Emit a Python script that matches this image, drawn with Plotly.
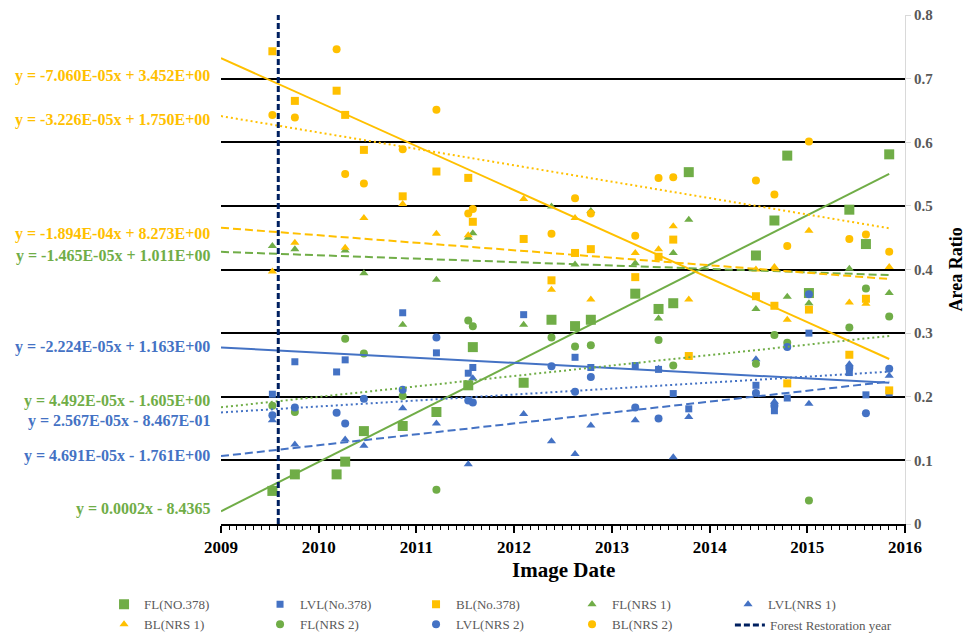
import pandas as pd
import plotly.graph_objects as go

# ---- data -------------------------------------------------------------
image_dates = [
    "2009-07-12", "2009-10-04", "2010-03-09", "2010-04-10", "2010-06-19",
    "2010-11-11", "2011-03-17", "2011-07-14", "2011-07-31", "2012-02-06",
    "2012-05-20", "2012-08-16", "2012-10-14", "2013-03-29", "2013-06-24",
    "2013-08-18", "2013-10-15", "2014-06-23", "2014-08-31", "2014-10-18",
    "2015-01-07", "2015-06-07", "2015-08-08", "2015-11-03",
]
restoration_date = "2009-08-03"

fl_no378 = [0.052, 0.078, 0.078, 0.098, 0.146, 0.154, 0.176, 0.218, 0.278, 0.222, 0.321, 0.311,
            0.321, 0.362, 0.338, 0.347, 0.553, 0.422, 0.477, 0.579, 0.363, 0.494, 0.440, 0.581]
lvl_no378 = [0.204, 0.255, 0.239, 0.258, None, 0.332, 0.269, 0.237, 0.246, 0.329, None, 0.262,
             0.246, 0.249, 0.243, 0.205, 0.181, 0.218, 0.178, 0.198, 0.300, 0.238, 0.203, 0.206]
bl_no378 = [0.743, 0.665, 0.681, 0.643, 0.588, 0.515, 0.554, 0.544, 0.475, 0.448, 0.383, 0.426,
            0.432, 0.388, 0.420, 0.447, 0.264, 0.358, 0.343, 0.221, 0.337, 0.266, 0.354, 0.210]
fl_nrs1 = [0.437, 0.432, None, 0.430, 0.394, 0.313, 0.384, 0.450, 0.457, 0.313, 0.499, 0.408,
           0.492, 0.410, 0.323, 0.426, 0.478, 0.338, None, 0.357, 0.347, 0.401, None, 0.363]
lvl_nrs1 = [0.163, 0.125, None, 0.133, 0.123, 0.182, 0.158, 0.094, 0.229, 0.173, 0.130, 0.110,
            0.155, 0.163, 0.244, 0.105, 0.168, 0.259, 0.192, None, 0.189, 0.251, None, 0.233]
bl_nrs1 = [0.397, 0.442, None, 0.434, 0.481, 0.503, 0.456, 0.454, None, 0.511, 0.368, 0.481,
           0.353, 0.426, 0.432, 0.468, 0.353, 0.400, 0.404, 0.321, 0.461, 0.348, 0.346, 0.404]
fl_nrs2 = [0.186, 0.176, None, 0.291, 0.268, 0.201, 0.054, 0.320, 0.311, None, 0.293, 0.279,
           0.281, None, 0.289, 0.249, None, 0.252, 0.297, 0.285, 0.037, 0.309, 0.370, 0.326]
lvl_nrs2 = [0.171, 0.183, 0.175, 0.158, 0.197, 0.211, 0.293, 0.194, 0.191, None, 0.248, 0.208,
            0.231, 0.183, 0.166, None, None, 0.206, 0.186, 0.278, 0.361, 0.245, 0.174, 0.244]
bl_nrs2 = [0.643, 0.639, 0.746, 0.550, 0.535, 0.589, 0.651, 0.488, 0.495, None, 0.456, 0.512,
           0.488, 0.453, 0.544, 0.545, None, 0.540, 0.518, 0.437, 0.601, 0.448, 0.455, 0.428]

series_names = ["FL(NO.378)", "LVL(No.378)", "BL(No.378)",
                "FL(NRS 1)", "LVL(NRS 1)", "BL(NRS 1)",
                "FL(NRS 2)", "LVL(NRS 2)", "BL(NRS 2)"]
series_values = [fl_no378, lvl_no378, bl_no378,
                 fl_nrs1, lvl_nrs1, bl_nrs1,
                 fl_nrs2, lvl_nrs2, bl_nrs2]

# linear trend coefficients, x = Excel serial day number
trend_slopes = [2.124e-4, -2.224e-5, -1.894e-4,
                -1.465e-5, 4.691e-5, -3.226e-5,
                4.492e-5, 2.567e-5, -7.060e-5]
trend_intercepts = [-8.4365, 1.163, 8.273,
                    1.011, -1.761, 1.750,
                    -1.605, -0.8467, 3.452]
trend_formats = [".4f", ".3E", ".3E", ".3E", ".3E", ".3E", ".3E", ".3E", ".3E"]

# equation labels: (series index, label y position)
label_order = [8, 5, 2, 3, 1, 6, 7, 4, 0]
label_y = [0.7047, 0.6351, 0.4556, 0.4216, 0.2776, 0.1928, 0.1614, 0.1065, 0.0228]

# ---- styles -----------------------------------------------------------
GREEN, BLUE, YELLOW, NAVY = "#70AD47", "#4472C4", "#FFC000", "#002060"
colors = [GREEN, BLUE, YELLOW] * 3
symbols = ["square"] * 3 + ["triangle-up"] * 3 + ["circle"] * 3
sizes = [10, 7, 8, 8, 8, 8, 8, 8, 8]
dashes = ["solid"] * 3 + ["8px,4px"] * 3 + ["2px,3px"] * 3
SERIF = "Liberation Serif"

AXIS_START, AXIS_END = "2009-01-01", "2016-01-01"
EXCEL_EPOCH = pd.Timestamp("1899-12-30")


def serial(d):
    return (pd.Timestamp(d) - EXCEL_EPOCH).days


def eq_text(a, b, fmt):
    sign = "+" if b >= 0 else "-"
    return f"y = {format(a, fmt)}x {sign} {format(abs(b), fmt)}"


fig = go.Figure()

for name, vals, col, sym, sz in zip(series_names, series_values, colors, symbols, sizes):
    xs = [d for d, v in zip(image_dates, vals) if v is not None]
    ys = [v for v in vals if v is not None]
    fig.add_trace(go.Scatter(
        x=xs, y=ys, mode="markers", name=name, legend="legend",
        marker=dict(symbol=sym, size=sz, color=col, line=dict(width=0)),
    ))

# trend lines, extended back to the start of the axis
for vals, col, dash, a, b in zip(series_values, colors, dashes, trend_slopes, trend_intercepts):
    last = [d for d, v in zip(image_dates, vals) if v is not None][-1]
    xs = [AXIS_START, last]
    ys = [a * serial(d) + b for d in xs]
    fig.add_trace(go.Scatter(
        x=xs, y=ys, mode="lines", showlegend=False, hoverinfo="skip",
        line=dict(color=col, width=2, dash=dash),
    ))

fig.add_trace(go.Scatter(
    x=[restoration_date, restoration_date], y=[0, 0.8], mode="lines",
    name="Forest Restoration year", legend="legend2",
    line=dict(color=NAVY, width=3, dash="6px,3px"),
))

annotations = []
for idx, yv in zip(label_order, label_y):
    annotations.append(dict(
        text=eq_text(trend_slopes[idx], trend_intercepts[idx], trend_formats[idx]),
        xref="paper", yref="y", x=-0.0132, y=yv, xanchor="right", yanchor="middle",
        showarrow=False, font=dict(family=SERIF, size=16, color=colors[idx], weight="bold"),
    ))
annotations.append(dict(
    text="Image Date", xref="paper", yref="paper", x=0.5, y=-0.0904,
    xanchor="center", yanchor="middle", showarrow=False,
    font=dict(family=SERIF, size=21, color="black", weight="bold"),
))
annotations.append(dict(
    text="Area Ratio", xref="paper", yref="paper", x=1.0731, y=0.5, textangle=-90,
    xanchor="center", yanchor="middle", showarrow=False,
    font=dict(family=SERIF, size=18, color="black", weight="bold"),
))

legend_font = dict(family=SERIF, size=13, color="#595959")
fig.update_layout(
    width=965, height=634,
    margin=dict(l=221, r=60, t=15, b=110, autoexpand=False),
    plot_bgcolor="white", paper_bgcolor="white",
    font=dict(family=SERIF, color="black"),
    annotations=annotations,
    legend=dict(
        orientation="h", x=-0.171, xanchor="left", y=-0.1285, yanchor="top",
        entrywidth=111, entrywidthmode="pixels", traceorder="normal",
        font=legend_font, itemsizing="trace", bgcolor="rgba(0,0,0,0)",
    ),
    legend2=dict(
        orientation="h", x=0.744, xanchor="left", y=-0.169, yanchor="top",
        font=legend_font, bgcolor="rgba(0,0,0,0)",
    ),
)

fig.update_xaxes(
    type="date", range=[AXIS_START, AXIS_END], dtick="M12", tickformat="%Y",
    ticks="outside", ticklen=7, tickwidth=1.5, tickcolor="black",
    showline=True, linecolor="black", linewidth=1.5,
    showgrid=False, zeroline=False,
    tickfont=dict(family=SERIF, size=17, color="black", weight="bold"),
    minor=dict(dtick="M1", ticks="outside", ticklen=4, tickwidth=1, tickcolor="black", showgrid=False),
)
fig.update_yaxes(
    range=[0, 0.8], dtick=0.1, side="right",
    showgrid=True, gridcolor="black", gridwidth=1.5, zeroline=False,
    showline=True, linecolor="#D9D9D9", linewidth=1,
    ticks="outside", ticklen=5, tickcolor="#D9D9D9",
    tickfont=dict(family=SERIF, size=15, color="#595959", weight="bold"),
)

fig.write_html("out.html")
